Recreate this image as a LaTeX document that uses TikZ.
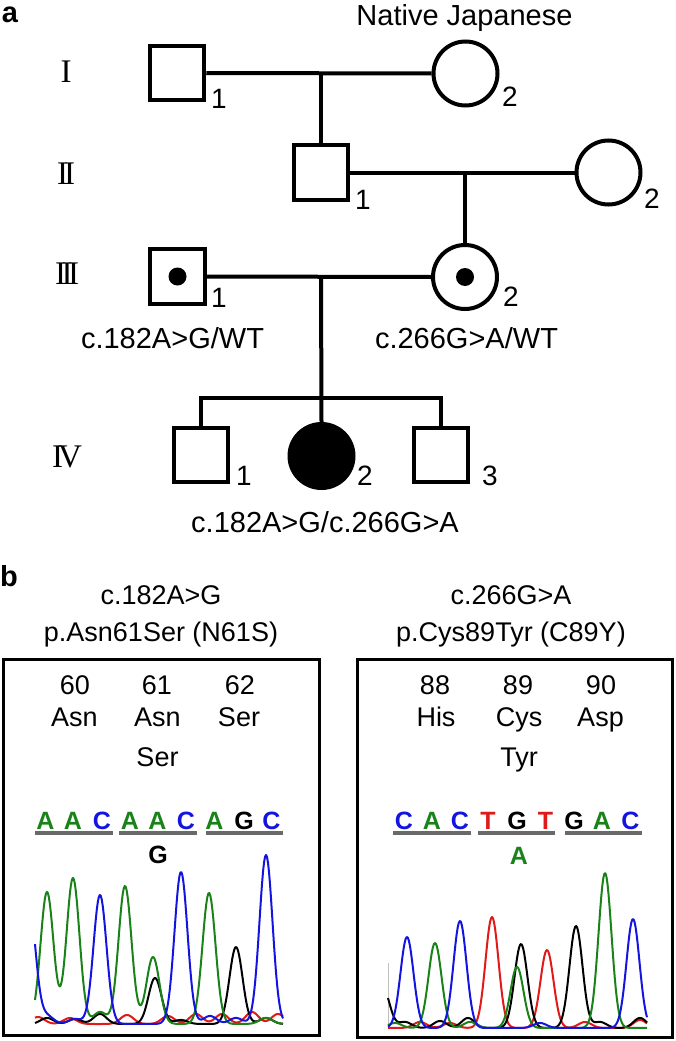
\documentclass[tikz,border=0pt]{standalone}
\usepackage{fontspec}
\setmainfont{Liberation Sans}
\newfontfamily\romfont{Liberation Serif}
\definecolor{tgreen}{RGB}{25,130,25}
\definecolor{tblue}{RGB}{20,20,225}
\definecolor{tred}{RGB}{225,25,25}
\definecolor{bargray}{RGB}{105,105,105}
\begin{document}
\begin{tikzpicture}[x=1pt,y=-1pt,
  declare function={pk(\t,\m,\h)=\h*exp(max(-9,-0.5*((\t-\m)/6.5)^2));},
  male/.style={draw, line width=4pt, rectangle, minimum size=54.5pt, inner sep=0pt},
  female/.style={draw, line width=4pt, circle, minimum size=64pt, inner sep=0pt},
  carrier/.style={circle, fill=black, minimum size=18pt, inner sep=0pt},
  rel/.style={line width=4pt},
  lbl/.style={font=\fontsize{29}{34}\selectfont, inner sep=0pt, text height=20.8pt, text depth=0pt},
  num/.style={font=\fontsize{28}{32}\selectfont, inner sep=0pt, text height=20pt, text depth=0pt},
  gen/.style={font=\romfont\fontsize{33}{38}\selectfont, inner sep=0pt, text height=21.8pt, text depth=0pt},
  panel/.style={font=\bfseries\fontsize{29}{34}\selectfont, inner sep=0pt},
  tb/.style={font=\fontsize{27}{32}\selectfont, inner sep=0pt, text height=19.3pt, text depth=0pt},
  seq/.style={font=\bfseries\fontsize{25}{30}\selectfont, inner sep=0pt, text height=17.9pt, text depth=0pt},
  pbox/.style={draw, line width=3pt, rectangle, inner sep=0pt},
  bar/.style={draw=bargray, line width=3.5pt},
  trace/.style={line width=2pt, line join=round}]
\useasboundingbox (0,0) rectangle (675,1041);
\fill[white] (0,0) rectangle (675,1041);

% ---------------- panel a ----------------
\node[panel] (a) at (10,15) {a};
\node[lbl] (nj) at (464.5,15) {Native Japanese};

\node[gen] (gI) at (66,72) {I};
\node[gen] (gII) at (66,173.5) {I\kern-4pt I};
\node[gen] (gIII) at (67,274) {I\kern-4.5pt I\kern-4.5pt I};
\node[gen] (gIV) at (67,457) {I\kern-5pt V};

\node[male] (I1) at (177,73) {};
\node[female] (I2) at (465.5,73.5) {};
\node[male] (II1) at (321,172.5) {};
\node[female] (II2) at (608.5,172.5) {};
\node[male] (III1) at (177.5,276.5) {};
\node[female] (III2) at (465,277) {};
\node[male] (IV1) at (201,455) {};
\node[female, fill=black] (IV2) at (321.5,456) {};
\node[male] (IV3) at (441,455) {};

\node[carrier] (d1) at (III1.center) {};
\node[carrier] (d2) at (III2.center) {};

\node[num] (nI1) at (219,98) {1};
\node[num] (nI2) at (510,96.5) {2};
\node[num] (nII1) at (363,199) {1};
\node[num] (nII2) at (652,198) {2};
\node[num] (nIII1) at (219,297) {1};
\node[num] (nIII2) at (511,296) {2};
\node[num] (nIV1) at (244,475) {1};
\node[num] (nIV2) at (365,475) {2};
\node[num] (nIV3) at (490,475) {3};

\node[lbl] (g1) at (172.5,338) {c.182A>G/WT};
\node[lbl] (g2) at (466.5,338) {c.266G>A/WT};
\node[lbl] (g3) at (325,522.5) {c.182A>G/c.266G>A};

\draw[rel] (I1.east) -- (I2.west);
\coordinate (c1) at (321,73);
\draw[rel] (c1) -- (II1.north);
\draw[rel] (II1.east) -- (II2.west);
\coordinate (c2) at (465,172.5);
\draw[rel] (c2) -- (III2.north);
\draw[rel] (III1.east) -- (III2.west);
\coordinate (c3) at (321,277);
\coordinate (s0) at (321,398);
\coordinate (sL) at (201,398);
\coordinate (sR) at (441,398);
\draw[rel] (c3) -- (IV2.north);
\draw[rel, line join=miter] (IV1.north) -- (sL) -- (sR) -- (IV3.north);

% ---------------- panel b ----------------
\node[panel] (b) at (9,576) {b};
\node[tb] (m1) at (161,594.5) {c.182A>G};
\node[tb] (p1) at (161,632) {p.Asn61Ser (N61S)};
\node[tb] (m2) at (511,594.5) {c.266G>A};
\node[tb] (p2) at (511,632) {p.Cys89Tyr (C89Y)};

\node[pbox, minimum width=316pt, minimum height=376pt] (B1) at (161,847) {};
\node[pbox, minimum width=315pt, minimum height=378pt] (B2) at (514.5,848) {};

% left box texts
\node[tb] at (75,685) {60};
\node[tb] at (157,685) {61};
\node[tb] at (240,685) {62};
\node[tb] at (74.5,716.5) {Asn};
\node[tb] at (157.5,716.5) {Asn};
\node[tb] at (239,716.5) {Ser};
\node[tb] at (157.5,756.5) {Ser};
% right box texts
\node[tb] at (435,685) {88};
\node[tb] at (518,685) {89};
\node[tb] at (601,685) {90};
\node[tb] at (436,716.5) {His};
\node[tb] at (519,716.5) {Cys};
\node[tb] at (600.5,716.5) {Asp};
\node[tb] at (519,756.5) {Tyr};

% sequence letters left
\node[seq, text=tgreen] at (45.5,821) {A};
\node[seq, text=tgreen] at (73,821) {A};
\node[seq, text=tblue] at (102,821) {C};
\node[seq, text=tgreen] at (130,821) {A};
\node[seq, text=tgreen] at (157.5,821) {A};
\node[seq, text=tblue] at (186,821) {C};
\node[seq, text=tgreen] at (214.5,821) {A};
\node[seq, text=black] at (244,821) {G};
\node[seq, text=tblue] at (271.5,821) {C};
\draw[bar] (35,833) -- (113,833);
\draw[bar] (119,833) -- (197,833);
\draw[bar] (206,833) -- (283,833);
\node[seq, text=black] at (158,855) {G};

% sequence letters right
\node[seq, text=tblue] at (404,821) {C};
\node[seq, text=tgreen] at (432,821) {A};
\node[seq, text=tblue] at (460,821) {C};
\node[seq, text=tred] at (488,821) {T};
\node[seq, text=black] at (517,821) {G};
\node[seq, text=tred] at (545.5,821) {T};
\node[seq, text=black] at (574,821) {G};
\node[seq, text=tgreen] at (602,821) {A};
\node[seq, text=tblue] at (630.5,821) {C};
\draw[bar] (393,833) -- (471,833);
\draw[bar] (478,833) -- (555,833);
\draw[bar] (565,833) -- (642,833);
\node[seq, text=tgreen] at (519,856) {A};

% traces left
\draw[trace, tred] plot[domain=35:283, samples=250] (\x, {1024 - pk(\x,38,7) - pk(\x,70,6) - pk(\x,127,9) - pk(\x,168,8) - pk(\x,196,10) - pk(\x,222,10) - pk(\x,252,12) - pk(\x,278,10)});
\draw[trace, black] plot[domain=35:283, samples=250] (\x, {1024 - pk(\x,155,46) - pk(\x,236,77) - pk(\x,47,6) - pk(\x,75,5) - pk(\x,100,10) - pk(\x,181,4) - pk(\x,266,6)});
\draw[trace, tgreen] plot[domain=35:283, samples=250] (\x, {1024 - pk(\x,47,132) - pk(\x,73,146) - pk(\x,125,138) - pk(\x,153,67) - pk(\x,209,131) - pk(\x,100,12) - pk(\x,266,6)});
\draw[trace, tblue] plot[domain=35:283, samples=250] (\x, {1024 - pk(\x,29,120) - pk(\x,100,129) - pk(\x,181,152) - pk(\x,266,169) - pk(\x,47,8) - pk(\x,75,5) - pk(\x,210,8) - pk(\x,236,6)});

% traces right
\draw[gray!50, line width=1pt] (388,1028) -- (388,963);
\draw[trace, tred] plot[domain=388:647, samples=250] (\x, {1028 - pk(\x,492,111) - pk(\x,547,78) - pk(\x,420,6) - pk(\x,450,5) - pk(\x,585,6) - pk(\x,640,8)});
\draw[trace, black] plot[domain=388:647, samples=250] (\x, {1028 - pk(\x,521,84) - pk(\x,576,102) - pk(\x,383,40) - pk(\x,405,6) - pk(\x,440,7) - pk(\x,468,10) - pk(\x,600,6) - pk(\x,640,10)});
\draw[trace, tgreen] plot[domain=388:647, samples=250] (\x, {1028 - pk(\x,435,85) - pk(\x,517,61) - pk(\x,605,155) - pk(\x,470,6) - pk(\x,395,5)});
\draw[trace, tblue] plot[domain=388:647, samples=250] (\x, {1028 - pk(\x,407,91) - pk(\x,460,107) - pk(\x,633,109) - pk(\x,540,5)});
\end{tikzpicture}
\end{document}
